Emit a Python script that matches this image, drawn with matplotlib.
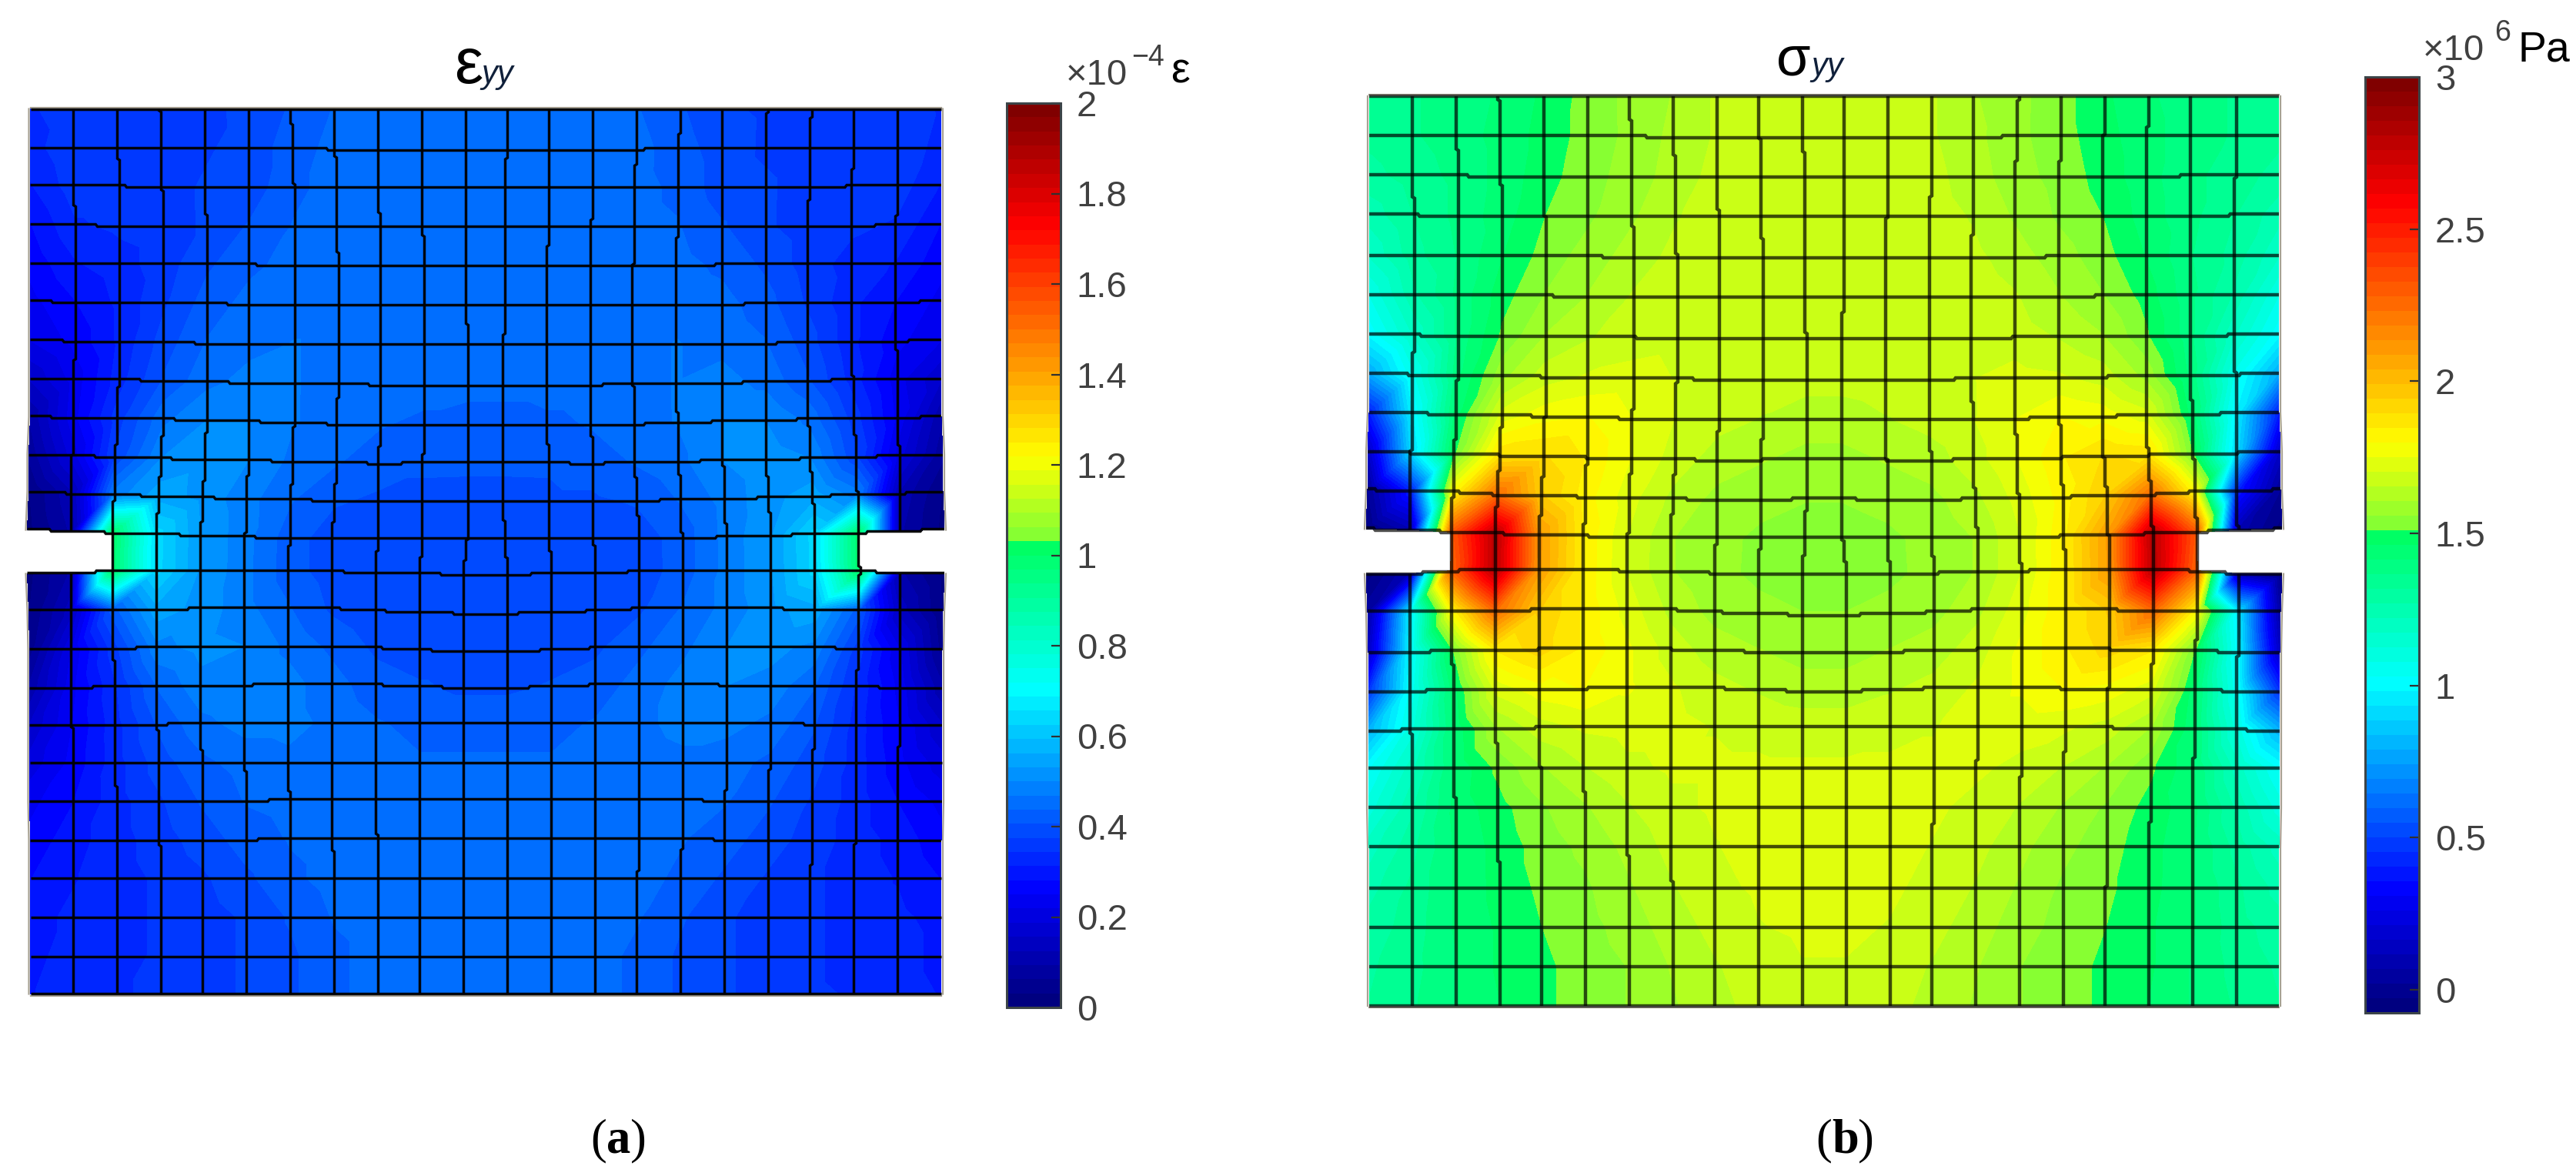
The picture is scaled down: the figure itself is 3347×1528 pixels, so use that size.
import numpy as np
import matplotlib
matplotlib.use('Agg')
from matplotlib import pyplot as plt
from matplotlib import tri as mtri
from matplotlib.cm import ScalarMappable
from matplotlib.colors import LinearSegmentedColormap, ListedColormap, Normalize

W, H = 3347, 1528
plt.rcParams['font.family'] = ['Liberation Sans', 'DejaVu Sans']

# colour scale (note the jump just past the middle)
cmap_pos = [0.0, 0.125, 0.35, 0.511, 0.513, 0.61, 0.87, 1.0]
cmap_rgb = [(0, 0, 0.5), (0, 0, 1), (0, 1, 1), (0, 1, 0.38), (0.47, 1, 0.22),
            (1, 1, 0), (1, 0, 0), (0.5, 0, 0)]

ticks_a = [0, 0.2, 0.4, 0.6, 0.8, 1, 1.2, 1.4, 1.6, 1.8, 2]
tick_labels_a = ['0', '0.2', '0.4', '0.6', '0.8', '1', '1.2', '1.4', '1.6', '1.8', '2']
ticks_b = [0, 0.5, 1, 1.5, 2, 2.5, 3]
tick_labels_b = ['0', '0.5', '1', '1.5', '2', '2.5', '3']
range_a = (0, 2)
range_b = (-0.076, 3)

# left half of the mesh, rows top to bottom, columns 0-10. right half is the mirror
# strain at the nodes, x 10^-4
strain = [
    [.34, .36, .37, .36, .37, .38, .41, .44, .45, .45, .45],
    [.33, .37, .37, .36, .37, .39, .42, .45, .45, .46, .46],
    [.31, .36, .36, .36, .38, .39, .43, .45, .46, .46, .46],
    [.28, .34, .35, .36, .38, .41, .44, .45, .46, .46, .46],
    [.26, .31, .33, .36, .40, .43, .45, .46, .46, .46, .46],
    [.24, .28, .32, .37, .42, .45, .46, .46, .46, .46, .46],
    [.22, .26, .32, .39, .44, .46, .47, .46, .46, .46, .46],
    [.16, .23, .33, .41, .46, .48, .47, .46, .45, .45, .45],
    [.10, .24, .36, .46, .50, .50, .47, .46, .44, .43, .42],
    [.07, .20, .38, .50, .52, .50, .46, .44, .42, .41, .41],
    [.03, .12, .48, .55, .52, .48, .44, .41, .40, .40, .40],
    [.02, .10, 1.0, .64, .53, .48, .42, .39, .38, .38, .38],
    [.02, .10, 1.0, .64, .53, .48, .42, .39, .38, .38, .38],
    [.03, .14, .42, .55, .52, .48, .44, .40, .38, .38, .38],
    [.05, .22, .36, .49, .51, .50, .46, .43, .40, .39, .39],
    [.10, .24, .34, .44, .49, .50, .48, .45, .42, .41, .40],
    [.16, .25, .33, .41, .46, .48, .48, .46, .44, .43, .43],
    [.20, .26, .33, .39, .43, .45, .46, .45, .45, .44, .44],
    [.24, .28, .33, .37, .41, .44, .45, .45, .45, .45, .45],
    [.26, .30, .33, .36, .39, .42, .44, .45, .45, .45, .45],
    [.28, .31, .33, .35, .37, .40, .43, .45, .45, .45, .45],
    [.30, .32, .33, .35, .36, .38, .41, .44, .45, .45, .45],
    [.30, .33, .33, .35, .36, .38, .40, .43, .45, .45, .45],
    [.31, .33, .34, .35, .36, .38, .40, .43, .45, .45, .45],
]

# stress at the nodes, x 10^6 Pa
stress = [
    [1.33, 1.36, 1.39, 1.42, 1.47, 1.53, 1.57, 1.61, 1.66, 1.68, 1.69],
    [1.33, 1.36, 1.39, 1.43, 1.48, 1.53, 1.57, 1.62, 1.66, 1.68, 1.69],
    [1.30, 1.34, 1.38, 1.43, 1.49, 1.54, 1.58, 1.63, 1.67, 1.69, 1.70],
    [1.24, 1.32, 1.38, 1.44, 1.51, 1.55, 1.60, 1.65, 1.68, 1.69, 1.70],
    [1.18, 1.30, 1.37, 1.46, 1.53, 1.58, 1.63, 1.67, 1.69, 1.70, 1.70],
    [1.08, 1.26, 1.38, 1.49, 1.56, 1.61, 1.66, 1.69, 1.70, 1.70, 1.70],
    [1.00, 1.18, 1.38, 1.52, 1.61, 1.65, 1.68, 1.69, 1.70, 1.70, 1.69],
    [0.78, 1.06, 1.40, 1.59, 1.68, 1.71, 1.72, 1.70, 1.69, 1.68, 1.67],
    [0.40, 0.98, 1.44, 1.72, 1.78, 1.80, 1.75, 1.70, 1.67, 1.65, 1.63],
    [0.15, 0.90, 1.50, 1.88, 1.90, 1.84, 1.75, 1.68, 1.63, 1.61, 1.59],
    [0.02, 0.40, 1.80, 2.25, 1.95, 1.82, 1.72, 1.64, 1.59, 1.57, 1.56],
    [-.05, 0.10, 2.30, 2.80, 2.10, 1.84, 1.70, 1.61, 1.57, 1.55, 1.54],
    [-.06, 0.12, 2.25, 2.80, 2.10, 1.84, 1.70, 1.61, 1.57, 1.55, 1.54],
    [0.05, 0.95, 1.80, 2.25, 1.95, 1.84, 1.73, 1.64, 1.59, 1.57, 1.56],
    [0.15, 1.00, 1.50, 1.85, 1.92, 1.84, 1.76, 1.68, 1.63, 1.61, 1.59],
    [0.45, 1.04, 1.44, 1.72, 1.78, 1.80, 1.76, 1.71, 1.67, 1.65, 1.63],
    [0.80, 1.10, 1.42, 1.60, 1.68, 1.71, 1.72, 1.72, 1.70, 1.69, 1.68],
    [1.02, 1.20, 1.42, 1.52, 1.60, 1.65, 1.69, 1.71, 1.71, 1.71, 1.71],
    [1.10, 1.26, 1.43, 1.49, 1.55, 1.60, 1.65, 1.69, 1.71, 1.72, 1.72],
    [1.20, 1.30, 1.42, 1.48, 1.53, 1.57, 1.62, 1.67, 1.70, 1.72, 1.72],
    [1.25, 1.33, 1.42, 1.48, 1.52, 1.55, 1.60, 1.65, 1.69, 1.71, 1.72],
    [1.29, 1.34, 1.42, 1.47, 1.51, 1.54, 1.58, 1.63, 1.67, 1.70, 1.71],
    [1.31, 1.35, 1.41, 1.47, 1.50, 1.53, 1.56, 1.61, 1.65, 1.68, 1.70],
    [1.32, 1.36, 1.41, 1.46, 1.50, 1.53, 1.56, 1.60, 1.64, 1.67, 1.69],
]

# how far each mesh node sits from the regular grid, in pixels of the picture
mesh_dx = [
    [1, 1, 2, 0, 1, 3, 1, 2, 1, 1, 1],
    [1, 1, 2, 3, 3, 3, 3, 2, 1, 1, 1],
    [1, 1, 4, 3, 3, 4, 5, 4, 1, 3, 3],
    [1, 3, 4, 5, 4, 4, 5, 4, 4, 3, 3],
    [1, 3, 4, 5, 4, 4, 6, 6, 4, 5, 3],
    [1, 3, 4, 5, 4, 4, 6, 6, 4, 5, 3],
    [1, 3, 4, 5, 4, 4, 6, 6, 4, 5, 5],
    [1, 1, 3, 5, 4, 4, 6, 6, 4, 5, 5],
    [1, 1, 1, 4, 4, 4, 5, 4, 4, 5, 5],
    [-1, -1, -1, 2, 3, 2, 3, 4, 2, 3, 5],
    [-1, -1, -3, -2, -1, 0, 1, 1, 2, 2, 5],
    [-3, -2, -5, -4, -3, -2, -1, -2, 1, 2, 4],
    [-3, -3, -6, -5, -4, -3, -2, -2, -2, -1, -1],
    [-1, -3, -5, -5, -4, -3, -2, -2, -2, -1, -1],
    [0, -2, -4, -4, -4, -3, -2, -2, -2, -1, -1],
    [0, -1, -2, -3, -3, -3, -2, -2, -1, -1, -1],
    [0, -1, -2, -3, -3, -3, -2, -2, -1, -1, -1],
    [0, 0, -1, -2, -2, -2, -2, -1, -1, -1, -1],
    [0, 0, 0, -1, -1, -1, -1, -1, -1, 0, 0],
    [1, 0, 0, 0, -1, -1, -1, -1, 0, 0, 0],
    [1, 1, 1, 1, 0, 0, 0, 0, 0, 0, 0],
    [1, 1, 1, 1, 0, 0, 0, 0, 0, 0, 0],
    [1, 1, 1, 1, 0, 0, 0, 0, 0, 0, 0],
    [1, 1, 1, 1, 0, 0, 0, 0, 0, 0, 0],
]
mesh_dy = [
    [0, 0, 0, 0, 0, 0, 0, 0, 0, 0, 0],
    [0, 0, 0, 0, 0, 0, 0, 3, 3, 3, 3],
    [0, 0, 0, 3, 3, 3, 3, 3, 3, 3, 3],
    [0, 0, 3, 3, 3, 3, 3, 3, 3, 3, 3],
    [0, 0, 2, 2, 2, 2, 5, 5, 5, 5, 5],
    [0, 1, 2, 2, 2, 5, 5, 5, 5, 5, 5],
    [0, 2, 3, 3, 5, 5, 5, 7, 7, 7, 7],
    [0, 2, 2, 3, 5, 6, 7, 7, 9, 9, 9],
    [0, 1, 2, 3, 5, 6, 8, 10, 10, 10, 10],
    [-1, 1, 2, 4, 6, 7, 8, 9, 11, 10, 8],
    [-3, 0, 0, 4, 5, 7, 8, 9, 11, 11, 9],
    [-3, -2, 1, 3, 4, 6, 8, 9, 9, 9, 9],
    [4, 4, 0, -1, -1, -1, 0, 1, 3, 4, 5],
    [2, 2, 1, 1, -1, -1, -1, -1, 2, 4, 6],
    [3, 3, 1, 0, -1, -2, -2, -1, 0, 3, 5],
    [2, 2, 1, 0, -1, -1, -4, -2, -2, 1, 2],
    [2, 1, 0, 0, -2, -2, -2, -2, -2, -2, -2],
    [0, 0, 0, 0, -1, -1, -1, -1, -1, -1, -1],
    [0, 0, 0, 0, 0, -1, -2, -2, -2, -2, -2],
    [0, 0, 0, 0, 0, 0, -2, -2, -2, -2, -2],
    [0, 0, 0, 0, 0, 0, 0, 0, 0, 0, 0],
    [0, 0, 0, 0, 0, 0, 0, 0, 0, 0, 0],
    [0, 0, 0, 0, 0, 0, 0, 0, 0, 0, 0],
    [0, 0, 0, 0, 0, 0, 0, 0, 0, 0, 0],
]

NOTCH_ROW = 11
NOTCH_COLS = 2
NEAR_BLACK = '#404040'
EDGE = '#a8a293'


def mirror(half, sign=1):
    half = np.array(half, dtype=float)
    # the two middle columns are neighbours, so the full mesh has 22 columns
    return np.hstack([half, sign * half[:, ::-1]])


def jet_like():
    smooth = LinearSegmentedColormap.from_list('fem', list(zip(cmap_pos, cmap_rgb)), N=1024)
    return ListedColormap(smooth(np.linspace(0, 1, 64)))


def stair(xs, ys, snap_x, snap_y):
    # the source was a small screenshot blown up, so lines go in little steps
    t = np.arange(len(xs))
    fine = np.linspace(0, len(xs) - 1, (len(xs) - 1) * 24 + 1)
    fx = np.interp(fine, t, xs)
    fy = np.interp(fine, t, ys)
    if snap_x:
        fx = np.round(fx / snap_x) * snap_x
    if snap_y:
        fy = np.round(fy / snap_y) * snap_y
    return fx, fy


def draw_field(box, half_values, vrange, cmap, line_color, line_alpha, lw):
    left, top, right, bottom = box
    nrows, ncols = 24, 22
    px, py = (right - left) / (ncols - 1), (bottom - top) / (nrows - 1)
    pad = 0.2
    ax = fig.add_axes([(left - pad * px) / W, 1 - (bottom + pad * py) / H,
                       (right - left + 2 * pad * px) / W, (bottom - top + 2 * pad * py) / H])
    ax.set_xlim(-pad, ncols - 1 + pad)
    ax.set_ylim(nrows - 1 + pad, -pad)
    ax.axis('off')

    col, row = np.meshgrid(np.arange(ncols), np.arange(nrows))
    x = col + mirror(mesh_dx, -1) / px
    y = row + mirror(mesh_dy) / py
    v = mirror(half_values)

    idx = row * ncols + col
    triangles = []
    for r in range(nrows - 1):
        for c in range(ncols - 1):
            if r == NOTCH_ROW and (c < NOTCH_COLS or c >= ncols - 1 - NOTCH_COLS):
                continue
            a, b, d, e = idx[r, c], idx[r, c + 1], idx[r + 1, c], idx[r + 1, c + 1]
            triangles += [[a, b, d], [b, e, d]]
    tr = mtri.Triangulation(x.ravel(), y.ravel(), triangles)
    levels = np.linspace(vrange[0], vrange[1], 65)
    ax.tricontourf(tr, v.ravel(), levels=levels, cmap=cmap, norm=Normalize(*vrange),
                   extend='both', antialiased=False)

    snap_x, snap_y = 3 / px, 3 / py
    style = dict(color=line_color, alpha=line_alpha, lw=lw, solid_joinstyle='miter',
                 solid_capstyle='butt', clip_on=False)
    # pale halo of the screenshot round the plate
    for c in (0, ncols - 1):
        ax.plot(x[:NOTCH_ROW + 1, c] + (1 if c else -1) * 2 / px, y[:NOTCH_ROW + 1, c], color=EDGE, lw=1.6)
        ax.plot(x[NOTCH_ROW + 1:, c] + (1 if c else -1) * 2 / px, y[NOTCH_ROW + 1:, c], color=EDGE, lw=1.6)
    ax.plot(x[0], y[0] - 2 / py, color=EDGE, lw=1.6)
    ax.plot(x[-1], y[-1] + 2 / py, color=EDGE, lw=1.6)

    for r in range(nrows):
        ax.plot(*stair(x[r], y[r], 0, snap_y), **style)
    for c in range(1, ncols - 1):
        if c < NOTCH_COLS or c > ncols - 1 - NOTCH_COLS:
            ax.plot(*stair(x[:NOTCH_ROW + 1, c], y[:NOTCH_ROW + 1, c], snap_x, 0), **style)
            ax.plot(*stair(x[NOTCH_ROW + 1:, c], y[NOTCH_ROW + 1:, c], snap_x, 0), **style)
        else:
            ax.plot(*stair(x[:, c], y[:, c], snap_x, 0), **style)
    return ax


def draw_colorbar(box, vrange, cmap, ticks, labels):
    left, top, right, bottom = box
    cax = fig.add_axes([left / W, 1 - bottom / H, (right - left) / W, (bottom - top) / H])
    cb = fig.colorbar(ScalarMappable(Normalize(*vrange), cmap), cax=cax)
    cb.set_ticks(ticks)
    cb.set_ticklabels(labels)
    cb.outline.set_edgecolor('#3c4448')
    cb.outline.set_linewidth(2.2)
    cax.tick_params(direction='in', length=9, width=1.6, color='#303030', pad=15,
                    labelsize=34, labelcolor=NEAR_BLACK)
    cax.minorticks_off()


def put(x, y, s, **kw):
    fig.text(x / W, 1 - y / H, s, ha='left', va='baseline', **kw)


fig = plt.figure(figsize=(W / 100, H / 100), dpi=100, facecolor='white')
cmap = jet_like()

draw_field((38.5, 141.5, 1224, 1291.5), strain, range_a, cmap, 'black', 0.95, 2.5)
draw_field((1778, 125, 2962, 1307), stress, range_b, cmap, 'black', 0.7, 3.2)
draw_colorbar((1308, 134, 1378, 1309), range_a, cmap, ticks_a, tick_labels_a)
draw_colorbar((3073, 100, 3143, 1316), range_b, cmap, ticks_b, tick_labels_b)

# titles
put(590, 108, '\u03b5', fontsize=60, color='black')
put(625, 108, 'yy', fontsize=30, style='italic', color='#10203a')
put(2308, 98, '\u03c3', fontsize=52, color='black')
put(2353, 98, 'yy', fontsize=30, style='italic', color='#10203a')

# colour bar multipliers and units
put(1385, 110, '\u00d710', fontsize=34, color=NEAR_BLACK)
put(1470, 85, '\u22124', fontsize=27, color=NEAR_BLACK)
put(1521, 108, '\u03b5', fontsize=40, color='black')
put(3148, 78, '\u00d710', fontsize=34, color=NEAR_BLACK)
put(3241, 53, '6', fontsize=27, color=NEAR_BLACK)
put(3272, 80, 'Pa', fontsize=40, color='black')

# sub captions
serif = ['Liberation Serif', 'DejaVu Serif']
put(767, 1497, '(', fontsize=45, family=serif)
put(788, 1497, 'a', fontsize=45, family=serif, weight='bold')
put(819, 1497, ')', fontsize=45, family=serif)
put(2359, 1497, '(', fontsize=45, family=serif)
put(2380, 1497, 'b', fontsize=45, family=serif, weight='bold')
put(2414, 1497, ')', fontsize=45, family=serif)

fig.savefig('out.png', dpi=100, facecolor='white')
